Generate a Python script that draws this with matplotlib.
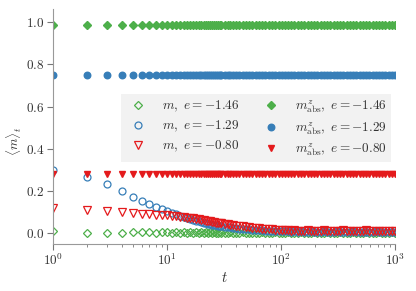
import matplotlib
matplotlib.use("Agg")
import matplotlib.pyplot as plt

plt.rcParams['font.family'] = 'serif'
plt.rcParams['font.serif'] = ['cmr10', 'DejaVu Serif']
plt.rcParams['mathtext.fontset'] = 'cm'
plt.rcParams['axes.formatter.use_mathtext'] = True

# time steps
t = list(range(1, 31)) + [
    32, 34, 36, 38, 40, 43, 46, 49, 52, 56, 60, 64, 68, 73, 78, 83, 89, 95,
    101, 108, 115, 123, 131, 140, 150, 160, 171, 183, 195, 208, 222, 237, 253,
    270, 288, 308, 329, 351, 375, 400, 427, 456, 487, 520, 555, 593, 633, 676,
    721, 770, 822, 878, 937, 1000]

energies = ['-1.46', '-1.29', '-0.80']

# <m>_t, open markers
m_e146 = [0.008, 0.001, 0.000, 0.003, 0.005, 0.004, 0.006, 0.003, 0.005, 0.004,
          0.003, 0.005, 0.002, 0.004, 0.003, 0.005, 0.002, 0.004, 0.003, 0.005,
          0.002, 0.004, 0.003, 0.005, 0.002, 0.004, 0.003, 0.001, 0.004, 0.002,
          0.003, 0.001, 0.004, 0.002, 0.003, 0.001, 0.004, 0.002, 0.003, 0.001,
          0.003, 0.002, 0.004, 0.001, 0.003, 0.002, 0.004, 0.001, 0.003, 0.002,
          0.004, 0.001, 0.003, 0.002, 0.004, 0.001, 0.003, 0.002, 0.004, 0.001,
          0.003, 0.002, 0.004, 0.001, 0.003, 0.002, 0.004, 0.001, 0.003, 0.002,
          0.004, 0.001, 0.003, 0.002, 0.004, 0.001, 0.003, 0.002, 0.004, 0.001,
          0.003, 0.002, 0.004, 0.002]
m_e129 = [0.300, 0.268, 0.235, 0.200, 0.172, 0.152, 0.137, 0.124, 0.113, 0.104,
          0.096, 0.089, 0.083, 0.077, 0.072, 0.067, 0.063, 0.059, 0.056, 0.053,
          0.050, 0.047, 0.045, 0.043, 0.041, 0.039, 0.037, 0.035, 0.034, 0.033,
          0.031, 0.029, 0.027, 0.026, 0.024, 0.022, 0.020, 0.019, 0.018, 0.016,
          0.015, 0.014, 0.013, 0.012, 0.011, 0.011, 0.010, 0.009, 0.009, 0.008,
          0.008, 0.007, 0.008, 0.007, 0.008, 0.007, 0.006, 0.008, 0.007, 0.007,
          0.006, 0.008, 0.007, 0.006, 0.007, 0.008, 0.006, 0.007, 0.007, 0.006,
          0.008, 0.007, 0.006, 0.007, 0.007, 0.006, 0.007, 0.008, 0.006, 0.007,
          0.007, 0.006, 0.007, 0.007]
m_e080 = [0.120, 0.112, 0.106, 0.098, 0.094, 0.091, 0.089, 0.087, 0.086, 0.084,
          0.082, 0.080, 0.078, 0.076, 0.074, 0.072, 0.070, 0.068, 0.066, 0.064,
          0.062, 0.060, 0.058, 0.056, 0.054, 0.052, 0.050, 0.049, 0.047, 0.046,
          0.044, 0.042, 0.040, 0.038, 0.036, 0.034, 0.032, 0.030, 0.028, 0.026,
          0.025, 0.023, 0.022, 0.020, 0.019, 0.018, 0.017, 0.016, 0.015, 0.014,
          0.013, 0.012, 0.013, 0.012, 0.011, 0.012, 0.013, 0.011, 0.012, 0.012,
          0.011, 0.013, 0.012, 0.011, 0.012, 0.012, 0.011, 0.013, 0.012, 0.011,
          0.012, 0.012, 0.011, 0.012, 0.013, 0.011, 0.012, 0.012, 0.011, 0.012,
          0.012, 0.011, 0.012, 0.012]

# m^z_abs, filled markers (flat)
mabs_e146 = [0.985] * len(t)
mabs_e129 = [0.75] * len(t)
mabs_e080 = [0.28] * len(t)

green = '#4daf4a'
blue = '#377eb8'
red = '#e41a1c'

fig = plt.figure(figsize=(4.16, 2.91), dpi=100)
ax = fig.add_axes([0.127, 0.161, 0.823, 0.808])

ms = 5
ax.plot(t, m_e146, 'D', mfc='none', mec=green, ms=ms - 0.5, mew=0.9, label=r'$m,\ e=%s$' % energies[0])
ax.plot(t, m_e129, 'o', mfc='none', mec=blue, ms=ms, mew=0.9, label=r'$m,\ e=%s$' % energies[1])
ax.plot(t, m_e080, 'v', mfc='none', mec=red, ms=ms + 0.5, mew=0.9, label=r'$m,\ e=%s$' % energies[2])
ax.plot(t, mabs_e146, 'D', color=green, ms=ms - 0.7, label=r'$m^z_{\rm abs},\ e=%s$' % energies[0])
ax.plot(t, mabs_e129, 'o', color=blue, ms=ms - 0.3, label=r'$m^z_{\rm abs},\ e=%s$' % energies[1])
ax.plot(t, mabs_e080, 'v', color=red, ms=ms, label=r'$m^z_{\rm abs},\ e=%s$' % energies[2])

ax.set_xscale('log')
ax.set_xlim(1, 1000)
ax.set_ylim(-0.052, 1.062)
ax.set_yticks([0.0, 0.2, 0.4, 0.6, 0.8, 1.0])
ax.set_xlabel(r'$t$', fontsize=10.5, color='#333333', labelpad=2)
ax.set_ylabel(r'$\langle m \rangle_t$', fontsize=9.5, color='#333333')
ax.yaxis.set_label_coords(-0.085, 0.44)

for s in ['top', 'right']:
    ax.spines[s].set_visible(False)
for s in ['left', 'bottom']:
    ax.spines[s].set_color('#999999')
ax.tick_params(which='both', direction='out', colors='#777777', labelcolor='#333333',
               labelsize=9.5, pad=2)
ax.tick_params(which='major', length=4)
ax.tick_params(which='minor', length=2.5)

leg = ax.legend(ncol=2, loc='upper center', bbox_to_anchor=(0.594, 0.637), fontsize=9.5,
                frameon=True, fancybox=False, facecolor='#f2f2f2', edgecolor='none',
                framealpha=1, handletextpad=0.9, columnspacing=1.4, labelspacing=0.36,
                borderpad=0.3, handlelength=1.9, borderaxespad=0)
for txt in leg.get_texts():
    txt.set_color('#333333')

fig.savefig('out.png', dpi=100)
